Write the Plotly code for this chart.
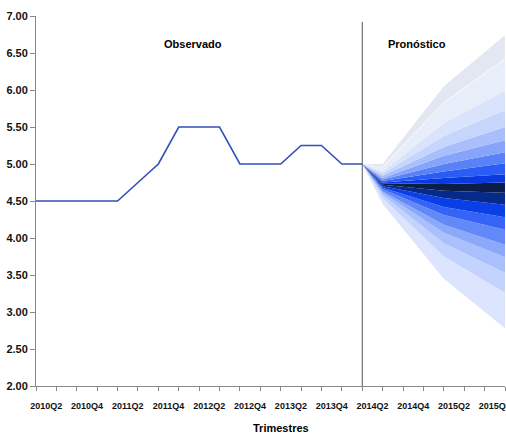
"""Fan chart: observed policy rate and forecast bands by quarter."""

import plotly.graph_objects as go

# ---------------------------------------------------------------------------
# Data
# ---------------------------------------------------------------------------

quarters = [
    "2010Q2", "2010Q3", "2010Q4", "2011Q1", "2011Q2", "2011Q3", "2011Q4",
    "2012Q1", "2012Q2", "2012Q3", "2012Q4", "2013Q1", "2013Q2", "2013Q3",
    "2013Q4", "2014Q1", "2014Q2", "2014Q3", "2014Q4", "2015Q1", "2015Q2",
    "2015Q3", "2015Q4", "2016Q1",
]
tick_labels = [
    "2010Q2", "2010Q4", "2011Q2", "2011Q4", "2012Q2", "2012Q4",
    "2013Q2", "2013Q4", "2014Q2", "2014Q4", "2015Q2", "2015Q4",
]

observed = [4.50, 4.50, 4.50, 4.50, 4.50, 4.75, 5.00, 5.50, 5.50, 5.50,
            5.00, 5.00, 5.00, 5.25, 5.25, 5.00, 5.00]

# forecast band edges (bottom to top), at forecast steps 0, 1, 4, 7
fc_steps = [16, 17, 20, 23]
band_edges = [
    [5.00, 4.46, 3.45, 2.78],
    [5.00, 4.54, 3.75, 3.26],
    [5.00, 4.58, 3.93, 3.53],
    [5.00, 4.61, 4.07, 3.74],
    [5.00, 4.63, 4.18, 3.91],
    [5.00, 4.66, 4.31, 4.11],
    [5.00, 4.68, 4.42, 4.28],
    [5.00, 4.70, 4.54, 4.45],
    [5.00, 4.72, 4.64, 4.61],
    [5.00, 4.74, 4.73, 4.75],
    [5.00, 4.75, 4.81, 4.86],
    [5.00, 4.77, 4.90, 5.01],
    [5.00, 4.79, 5.00, 5.16],
    [5.00, 4.81, 5.11, 5.32],
    [5.00, 4.84, 5.23, 5.50],
    [5.00, 4.87, 5.38, 5.73],
    [5.00, 4.90, 5.55, 5.99],
    [5.00, 4.96, 5.83, 6.42],
    [5.00, 5.00, 6.05, 6.74],
]
band_colors = [
    "#dce5fd", "#c4d3fd", "#a9c0fc", "#8ba8fb", "#6389f9", "#3563f6",
    "#0a3ee8", "#062a8a", "#0b1d4a", "#0a3ae0", "#2b5cf5", "#5a82f8",
    "#86a5fa", "#a8bffb", "#c6d5fc", "#d9e3fb", "#e7edf9", "#e2e7f1",
]

# ---------------------------------------------------------------------------
# Figure
# ---------------------------------------------------------------------------

fig = go.Figure()

for k, edge in enumerate(band_edges):
    fig.add_trace(
        go.Scatter(
            x=fc_steps,
            y=edge,
            mode="lines",
            line=dict(width=0),
            fill="tonexty" if k > 0 else None,
            fillcolor=band_colors[k - 1] if k > 0 else None,
            showlegend=False,
            hoverinfo="skip",
        )
    )

# faint white seam between the two lightest upper bands
fig.add_trace(
    go.Scatter(
        x=fc_steps[1:],
        y=band_edges[-2][1:],
        mode="lines",
        line=dict(color="rgba(255,255,255,0.8)", width=1),
        showlegend=False,
        hoverinfo="skip",
    )
)

fig.add_trace(
    go.Scatter(
        x=list(range(len(observed))),
        y=observed,
        mode="lines",
        line=dict(color="#3050b8", width=1.6),
        showlegend=False,
    )
)

fig.add_shape(
    type="line", x0=16, x1=16, y0=2.0, y1=6.92,
    line=dict(color="#555555", width=1),
)

title_font = dict(family="Liberation Sans, Arial", size=11, color="#000000", weight="bold")
fig.add_annotation(x=7.7, y=6.62, text="Observado", showarrow=False, font=title_font)
fig.add_annotation(x=18.7, y=6.62, text="Pronóstico", showarrow=False, font=title_font)
fig.add_annotation(
    x=(281 - 36) / 469, y=-0.114, xref="paper", yref="paper",
    text="Trimestres", showarrow=False, font=title_font, yanchor="middle",
)

fig.update_layout(
    width=506,
    height=433,
    margin=dict(l=36, r=1, t=16, b=47, autoexpand=False),
    plot_bgcolor="white",
    paper_bgcolor="white",
    xaxis=dict(
        range=[0, 23],
        automargin=False,
        showgrid=False,
        zeroline=False,
        showline=True,
        linecolor="#888888",
        linewidth=1,
        tickvals=[2 * i + 0.5 for i in range(len(tick_labels))],
        ticktext=tick_labels,
        ticks="outside",
        ticklen=11,
        tickcolor="rgba(0,0,0,0)",
        ticklabeloverflow="allow",
        tickfont=dict(family="Liberation Sans Narrow, Arial Narrow, Liberation Sans",
                      size=9, color="#111111", weight="bold"),
        minor=dict(dtick=1, tick0=0, ticks="outside", ticklen=4, tickcolor="#888888",
                   showgrid=False),
    ),
    yaxis=dict(
        range=[2, 7],
        automargin=False,
        dtick=0.5,
        tickformat=".2f",
        showgrid=False,
        zeroline=False,
        showline=True,
        linecolor="#888888",
        linewidth=1,
        ticks="outside",
        ticklen=5,
        tickcolor="#888888",
        tickfont=dict(family="Liberation Sans Narrow, Arial Narrow, Liberation Sans",
                      size=11, color="#111111", weight="bold"),
    ),
)

fig.write_html(
    "out.html",
    config={"displayModeBar": False},
    post_script="document.body.style.margin='0px';",
)
